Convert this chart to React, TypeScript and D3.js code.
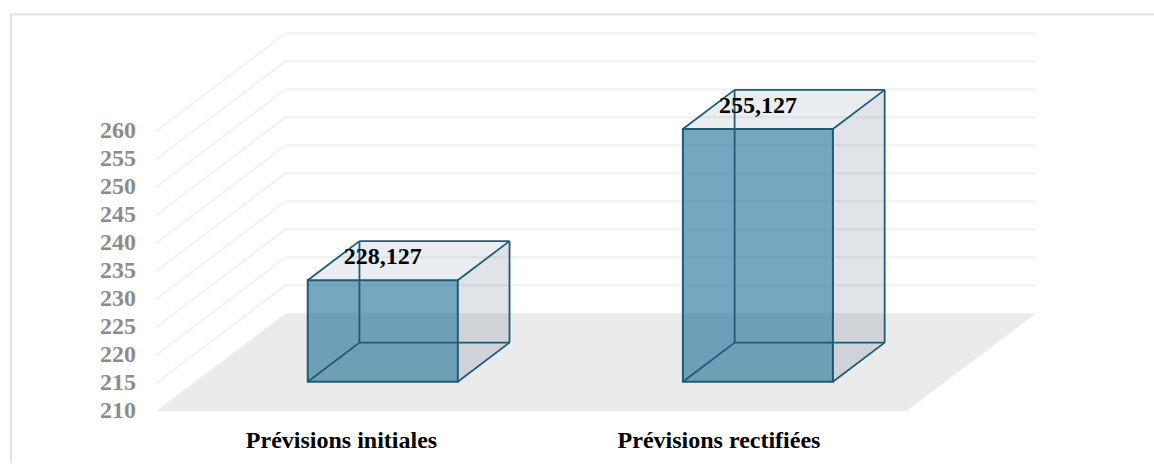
import React from "react";
import * as d3 from "d3";

const categories = ["Prévisions initiales", "Prévisions rectifiées"];
const values = [228.127, 255.127];
const valueLabels = ["228,127", "255,127"];
const ticks = [210, 215, 220, 225, 230, 235, 240, 245, 250, 255, 260];

const W = 1154;
const H = 464;
const FONT = "'Liberation Serif', serif";

const xBand = d3.scaleBand<string>().domain(categories).range([156.4, 906.7]);
const xLabel = d3.scalePoint<string>().domain(categories).range([341.5, 719]);
const yFront = d3.scaleLinear().domain([210, 260]).range([411, 131]);
// Perspective offsets: depth 0 is the front of the floor, depth 1 is the back wall.
const depthX = d3.scaleLinear().domain([0, 1]).range([0, 129.3]);
const depthY = d3.scaleLinear().domain([0, 1]).range([0, -97.7]);

const project = (x: number, v: number, depth: number): [number, number] => [
  x + depthX(depth),
  yFront(v) + depthY(depth),
];
const poly = (pts: [number, number][]) => d3.line()(pts)! + "Z";

const BAR_FRAC = 0.4;
const D0 = 0.3;
const D1 = 0.7;
const LINE = "#1f5b78";

export default function App() {
  const x0 = xBand.range()[0];
  const x1 = xBand.range()[1];
  return (
    <svg
      width={W}
      height={H}
      viewBox={`0 0 ${W} ${H}`}
      style={{ position: "absolute", left: 0, top: 0, display: "block", background: "#fff" }}
    >
      <path d="M11 463V14.5H1154" fill="none" stroke="#e2e2e2" strokeWidth={2} />

      <path
        d={poly([project(x0, 210, 0), project(x1, 210, 0), project(x1, 210, 1), project(x0, 210, 1)])}
        fill="#ebebeb"
      />
      {ticks.slice(1).map((t) => (
        <path
          key={t}
          d={d3.line()([project(x0, t, 0), project(x0, t, 1), project(x1, t, 1)])!}
          fill="none"
          stroke="#f1f1f1"
          strokeWidth={2}
        />
      ))}

      {categories.map((c, i) => {
        const bw = xBand.bandwidth();
        const l = xBand(c)! + (bw * (1 - BAR_FRAC)) / 2;
        const r = l + bw * BAR_FRAC;
        const v = values[i];
        const f = (x: number, val: number, d: number) => project(x, val, d);
        const edges: [number, number][][] = [
          [f(l, 210, D1), f(l, v, D1)],
          [f(l, 210, D1), f(r, 210, D1)],
          [f(l, 210, D0), f(l, 210, D1)],
          [f(r, 210, D1), f(r, v, D1)],
          [f(r, 210, D0), f(r, 210, D1)],
          [f(l, v, D1), f(r, v, D1)],
          [f(l, v, D0), f(l, v, D1)],
          [f(r, v, D0), f(r, v, D1)],
        ];
        return (
          <g key={c}>
            <path d={poly([f(r, 210, D0), f(r, 210, D1), f(r, v, D1), f(r, v, D0)])} fill="#3c5070" fillOpacity={0.16} />
            <path d={poly([f(l, v, D0), f(r, v, D0), f(r, v, D1), f(l, v, D1)])} fill="#3c6080" fillOpacity={0.11} />
            <path d={poly([f(l, 210, D0), f(r, 210, D0), f(r, v, D0), f(l, v, D0)])} fill="#246f98" fillOpacity={0.62} />
            {edges.map((e, k) => (
              <path key={k} d={d3.line()(e)!} fill="none" stroke={LINE} strokeWidth={1.8} />
            ))}
            <path
              d={poly([f(l, 210, D0), f(r, 210, D0), f(r, v, D0), f(l, v, D0)])}
              fill="none"
              stroke={LINE}
              strokeWidth={2}
            />
            <text
              x={(l + r) / 2 + depthX(D0)}
              y={f(l, v, D1)[1] + 23}
              textAnchor="middle"
              fontFamily={FONT}
              fontWeight="bold"
              fontSize={24}
              fill="#000"
            >
              {valueLabels[i]}
            </text>
            <text
              x={xLabel(c)!}
              y={448}
              textAnchor="middle"
              fontFamily={FONT}
              fontWeight="bold"
              fontSize={24}
              fill="#000"
            >
              {c}
            </text>
          </g>
        );
      })}

      {ticks.map((t) => (
        <text
          key={t}
          x={136}
          y={yFront(t) + 7}
          textAnchor="end"
          fontFamily={FONT}
          fontWeight="bold"
          fontSize={24}
          fill="#8c8c8c"
        >
          {t}
        </text>
      ))}
    </svg>
  );
}
